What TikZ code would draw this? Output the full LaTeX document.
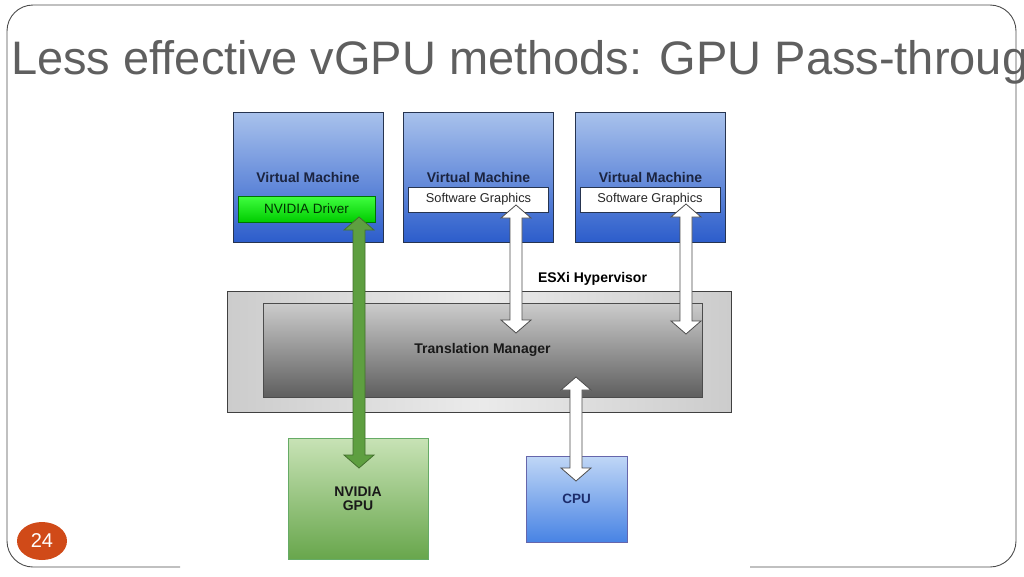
\documentclass[tikz,border=0pt]{standalone}
\usepackage{fontspec}
\setmainfont{Liberation Sans}
\usetikzlibrary{calc,shapes.geometric}
\definecolor{titlegray}{HTML}{5F5F5F}
\definecolor{pagered}{HTML}{D04A18}
\definecolor{vmtop}{HTML}{A9C2EC}
\definecolor{vmbot}{HTML}{2C5DCB}
\definecolor{vmline}{HTML}{263450}
\definecolor{vmtext}{HTML}{1B2440}
\definecolor{gputop}{HTML}{C8E3B6}
\definecolor{gpubot}{HTML}{68A64C}
\definecolor{cputop}{HTML}{C0D7F6}
\definecolor{cpubot}{HTML}{4883E4}
\definecolor{cputext}{HTML}{1C2C6C}
\definecolor{arrgreen}{HTML}{5E9F40}
\newcommand\dblarrow[3][]{%
  \path[#1] let \p1=(#2), \p2=(#3) in
    (\x1,\y1) -- (\x1+15pt,\y1-13pt) -- (\x1+6pt,\y1-13pt) -- (\x1+6pt,\y2+13pt)
    -- (\x1+15pt,\y2+13pt) -- (\x1,\y2) -- (\x1-15pt,\y2+13pt) -- (\x1-6pt,\y2+13pt)
    -- (\x1-6pt,\y1-13pt) -- (\x1-15pt,\y1-13pt) -- cycle;}
\tikzset{
  vmbox/.style={draw=vmline, line width=0.9pt, top color=vmtop, bottom color=vmbot,
    minimum width=150pt, minimum height=130pt, inner sep=0pt, text=vmtext,
    font=\fontsize{14}{16}\selectfont\bfseries},
  swbox/.style={draw=vmline, line width=0.8pt, fill=white, minimum width=140pt,
    minimum height=25pt, inner sep=0pt, text=black!85, font=\fontsize{12.8}{14}\selectfont},
  drvbox/.style={draw=green!45!black, line width=0.8pt, top color=green!75!white,
    bottom color=green!80!black, minimum width=137pt, minimum height=26pt, inner sep=0pt,
    text=black!80!green, font=\fontsize{13.5}{15}\selectfont},
  hvbox/.style={draw=black!75, line width=1pt, left color=black!20, right color=black!20,
    middle color=black!8, minimum width=504pt, minimum height=121pt, inner sep=0pt},
  tmbox/.style={draw=black!70, line width=0.9pt, top color=black!20, bottom color=black!63,
    minimum width=439pt, minimum height=94pt, inner sep=0pt,
    font=\fontsize{14}{16}\selectfont\bfseries, text=black!90},
  gpubox/.style={draw=black!55!green!60, line width=0.8pt, top color=gputop, bottom color=gpubot,
    minimum width=140pt, minimum height=121pt, inner sep=0pt, align=center,
    font=\fontsize{14}{14}\selectfont\bfseries, text=black!90},
  cpubox/.style={draw=black!55!blue!60, line width=0.8pt, top color=cputop, bottom color=cpubot,
    minimum width=101pt, minimum height=86pt, inner sep=0pt, text=cputext,
    font=\fontsize{13.5}{15}\selectfont\bfseries},
  whitearrow/.style={draw=black!70, line width=0.8pt, fill=white},
  greenarrow/.style={draw=arrgreen!70!black, line width=0.8pt, fill=arrgreen}
}
\begin{document}
\begin{tikzpicture}[x=1pt,y=-1pt]
\useasboundingbox (0,0) rectangle (1024,576);
% slide frame
\draw[black!70, line width=0.9pt, rounded corners=26pt]
  (180,567) -- (7,567) -- (7,5) -- (1016,5) -- (1016,567) -- (750,567);
% virtual machines
\node[vmbox] (vm1) at (308,177) {Virtual Machine};
\node[vmbox] (vm2) at (478.5,177) {Virtual Machine};
\node[vmbox] (vm3) at (650.5,177) {Virtual Machine};
\node[drvbox] (drv) at (306.5,209) {NVIDIA Driver};
\node[swbox] (sw2) at (478.5,199.5) {Software Graphics};
\node[swbox] (sw3) at (650,199.5) {Software Graphics};
% hypervisor
\node[anchor=base, inner sep=0pt, font=\fontsize{14}{16}\selectfont\bfseries] (esxi) at (592.5,282) {ESXi Hypervisor};
\node[hvbox] (hv) at (479,351.5) {};
\node[tmbox] (tm) at (482.5,350) {Translation Manager};
% hardware
\node[gpubox] (gpu) at (358,498.5) {NVIDIA\\GPU};
\node[cpubox] (cpu) at (576.5,499) {CPU};
% arrow ends
\coordinate (drvtip) at (359,217);
\coordinate (gputip) at (359,468);
\coordinate (sw2tip) at (516,205);
\coordinate (tm2tip) at (516,333);
\coordinate (sw3tip) at (686,204);
\coordinate (tm3tip) at (686,334);
\coordinate (tmtip) at (576,377);
\coordinate (cputip) at (576,481);
\dblarrow[greenarrow]{drvtip}{gputip}
\dblarrow[whitearrow]{sw2tip}{tm2tip}
\dblarrow[whitearrow]{sw3tip}{tm3tip}
\dblarrow[whitearrow]{tmtip}{cputip}
% title and page number
\node[anchor=base west, inner sep=0pt, text=titlegray, font=\fontsize{47}{56}\selectfont] (title) at (11,74) {Less effective vGPU methods: GPU Pass-throug};
\node[ellipse, fill=pagered, minimum width=50pt, minimum height=38pt, inner sep=0pt,
  text=white, font=\fontsize{20}{22}\selectfont] (page) at (42,541) {24};
\end{tikzpicture}
\end{document}
